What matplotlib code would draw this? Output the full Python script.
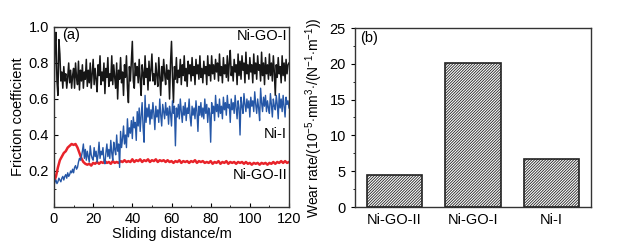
import numpy as np
import matplotlib
matplotlib.use("Agg")
import matplotlib.pyplot as plt
from matplotlib.ticker import MultipleLocator

plt.rcParams['font.family'] = ['Liberation Sans', 'DejaVu Sans']
plt.rcParams['mathtext.fontset'] = 'custom'
plt.rcParams['mathtext.rm'] = 'Liberation Sans'
plt.rcParams['mathtext.it'] = 'Liberation Sans'
plt.rcParams['hatch.linewidth'] = 0.6
plt.rcParams['hatch.color'] = '#222222'

# (a) friction coefficient vs sliding distance
dist_fine = np.linspace(0, 120, 241)   # 0.5 m steps
dist_red = np.arange(0, 121)           # 1 m steps

ni_go_1 = [0.55, 0.90, 0.97, 0.70, 0.62, 0.93, 0.85, 0.70, 0.75, 0.66, 0.78, 0.70, 0.74, 0.66, 0.72, 0.80, 0.69, 0.76, 0.66, 0.73,
           0.77, 0.66, 0.80, 0.72, 0.68, 0.81, 0.65, 0.76, 0.70, 0.79, 0.66, 0.75, 0.71, 0.82, 0.67, 0.76, 0.69, 0.80, 0.66, 0.74,
           0.82, 0.68, 0.77, 0.71, 0.64, 0.79, 0.73, 0.84, 0.68, 0.75, 0.70, 0.80, 0.63, 0.77, 0.72, 0.83, 0.67, 0.74, 0.70, 0.84,
           0.68, 0.79, 0.72, 0.66, 0.80, 0.60, 0.76, 0.71, 0.83, 0.69, 0.75, 0.62, 0.79, 0.72, 0.84, 0.66, 0.58, 0.78, 0.70, 0.81,
           0.92, 0.70, 0.66, 0.80, 0.73, 0.78, 0.69, 0.82, 0.71, 0.62, 0.79, 0.74, 0.68, 0.84, 0.72, 0.77, 0.65, 0.81, 0.70, 0.76,
           0.85, 0.70, 0.74, 0.68, 0.80, 0.73, 0.67, 0.83, 0.72, 0.62, 0.78, 0.70, 0.82, 0.74, 0.68, 0.79, 0.71, 0.76, 0.60, 0.80,
           0.92, 0.72, 0.58, 0.78, 0.71, 0.83, 0.69, 0.76, 0.72, 0.82, 0.68, 0.79, 0.73, 0.84, 0.70, 0.77, 0.67, 0.81, 0.74, 0.79,
           0.70, 0.83, 0.73, 0.78, 0.68, 0.82, 0.74, 0.79, 0.71, 0.84, 0.72, 0.77, 0.69, 0.81, 0.74, 0.78, 0.68, 0.84, 0.73, 0.79,
           0.70, 0.84, 0.74, 0.79, 0.71, 0.82, 0.75, 0.80, 0.70, 0.85, 0.73, 0.78, 0.69, 0.83, 0.74, 0.79, 0.72, 0.84, 0.70, 0.80,
           0.87, 0.73, 0.78, 0.70, 0.82, 0.75, 0.79, 0.68, 0.85, 0.73, 0.81, 0.71, 0.84, 0.76, 0.80, 0.69, 0.86, 0.74, 0.79, 0.71,
           0.83, 0.75, 0.79, 0.69, 0.85, 0.74, 0.80, 0.71, 0.84, 0.76, 0.79, 0.70, 0.86, 0.73, 0.80, 0.68, 0.83, 0.74, 0.79, 0.71,
           0.85, 0.73, 0.80, 0.70, 0.84, 0.75, 0.62, 0.79, 0.72, 0.83, 0.74, 0.78, 0.69, 0.84, 0.73, 0.80, 0.70, 0.82, 0.74, 0.79,
           0.80]

ni_i = [0.12, 0.14, 0.15, 0.13, 0.14, 0.16, 0.15, 0.14, 0.16, 0.17, 0.15, 0.17, 0.18, 0.16, 0.19, 0.17, 0.18, 0.20, 0.19, 0.21,
        0.19, 0.22, 0.23, 0.21, 0.22, 0.25, 0.27, 0.26, 0.28, 0.31, 0.35, 0.27, 0.32, 0.26, 0.31, 0.28, 0.25, 0.34, 0.29, 0.27,
        0.26, 0.33, 0.28, 0.31, 0.25, 0.29, 0.36, 0.27, 0.31, 0.29, 0.33, 0.26, 0.24, 0.30, 0.35, 0.28, 0.32, 0.27, 0.37, 0.30,
        0.26, 0.36, 0.32, 0.29, 0.40, 0.31, 0.35, 0.22, 0.42, 0.33, 0.38, 0.45, 0.35, 0.40, 0.33, 0.49, 0.39, 0.44, 0.41, 0.48,
        0.38, 0.50, 0.44, 0.47, 0.37, 0.53, 0.45, 0.55, 0.42, 0.51, 0.58, 0.44, 0.36, 0.62, 0.47, 0.55, 0.50, 0.57, 0.46, 0.54,
        0.49, 0.58, 0.52, 0.43, 0.56, 0.50, 0.54, 0.47, 0.60, 0.51, 0.45, 0.57, 0.53, 0.49, 0.58, 0.51, 0.55, 0.46, 0.56, 0.52,
        0.45, 0.59, 0.52, 0.56, 0.34, 0.55, 0.50, 0.57, 0.49, 0.60, 0.53, 0.47, 0.56, 0.51, 0.58, 0.48, 0.55, 0.52, 0.60, 0.50,
        0.45, 0.56, 0.51, 0.55, 0.49, 0.59, 0.53, 0.42, 0.56, 0.51, 0.58, 0.50, 0.55, 0.49, 0.60, 0.52, 0.57, 0.47, 0.55, 0.52,
        0.36, 0.58, 0.52, 0.56, 0.48, 0.62, 0.53, 0.57, 0.50, 0.60, 0.52, 0.56, 0.49, 0.61, 0.54, 0.58, 0.51, 0.62, 0.55, 0.57,
        0.47, 0.60, 0.54, 0.58, 0.52, 0.62, 0.55, 0.49, 0.59, 0.55, 0.40, 0.61, 0.56, 0.52, 0.63, 0.57, 0.53, 0.60, 0.55, 0.59,
        0.50, 0.61, 0.56, 0.59, 0.53, 0.64, 0.57, 0.52, 0.60, 0.55, 0.48, 0.66, 0.58, 0.53, 0.61, 0.56, 0.62, 0.53, 0.59, 0.55,
        0.52, 0.63, 0.57, 0.50, 0.60, 0.56, 0.54, 0.62, 0.57, 0.49, 0.63, 0.55, 0.60, 0.53, 0.62, 0.56, 0.50, 0.61, 0.57, 0.59,
        0.55]

ni_go_2 = [0.14, 0.17, 0.22, 0.26, 0.28, 0.30, 0.31, 0.33, 0.34, 0.35,
           0.345, 0.35, 0.33, 0.30, 0.27, 0.25, 0.24, 0.235, 0.24, 0.23,
           0.245, 0.24, 0.25, 0.24, 0.25, 0.245, 0.255, 0.245, 0.25, 0.24,
           0.255, 0.245, 0.25, 0.245, 0.255, 0.25, 0.26, 0.25, 0.255, 0.25,
           0.265, 0.25, 0.26, 0.255, 0.265, 0.25, 0.26, 0.255, 0.265, 0.25,
           0.26, 0.255, 0.265, 0.25, 0.26, 0.255, 0.26, 0.25, 0.26, 0.25,
           0.255, 0.245, 0.255, 0.25, 0.26, 0.245, 0.255, 0.25, 0.255, 0.245,
           0.255, 0.25, 0.26, 0.245, 0.255, 0.25, 0.255, 0.245, 0.25, 0.245,
           0.255, 0.24, 0.25, 0.245, 0.255, 0.24, 0.25, 0.245, 0.255, 0.24,
           0.25, 0.245, 0.25, 0.24, 0.25, 0.245, 0.25, 0.24, 0.25, 0.24,
           0.245, 0.235, 0.245, 0.24, 0.245, 0.235, 0.245, 0.24, 0.245, 0.235,
           0.245, 0.24, 0.25, 0.24, 0.25, 0.245, 0.255, 0.245, 0.255, 0.245,
           0.25]

# (b) wear rate
samples = ['Ni-GO-II', 'Ni-GO-I', 'Ni-I']
wear_rate = [4.4, 20.1, 6.7]

fig = plt.figure(figsize=(6.18, 2.45), dpi=100)
ax1 = fig.add_axes([54 / 618, 38 / 245, 235 / 618, 180 / 245])
ax2 = fig.add_axes([355 / 618, 38 / 245, 236 / 618, 179 / 245])

ax1.plot(dist_fine, ni_go_1, color='#161616', lw=1.1)
ax1.plot(dist_red, ni_go_2, color='#e8232a', lw=1.8)
ax1.plot(dist_fine, ni_i, color='#2557a7', lw=1.0)

ax1.set_xlim(0, 120)
ax1.set_ylim(0, 1.0)
ax1.set_xticks([0, 20, 40, 60, 80, 100, 120])
ax1.set_yticks([0.2, 0.4, 0.6, 0.8, 1.0])
ax1.xaxis.set_minor_locator(MultipleLocator(10))
ax1.yaxis.set_minor_locator(MultipleLocator(0.1))
ax1.tick_params(which='both', direction='in', labelsize=10.5)
ax1.tick_params(which='major', length=3)
ax1.tick_params(which='minor', length=1.5)
ax1.set_xlabel('Sliding distance/m', fontsize=10.5, labelpad=1)
ax1.set_ylabel('Friction coefficient', fontsize=10.5, labelpad=3)

ax1.text(4, 0.955, '(a)', fontsize=10.5, va='center', ha='left')
ax1.text(119, 0.95, 'Ni-GO-I', fontsize=10.5, va='center', ha='right')
ax1.text(119, 0.405, 'Ni-I', fontsize=10.5, va='center', ha='right')
ax1.text(119, 0.18, 'Ni-GO-II', fontsize=10.5, va='center', ha='right')

xpos = np.arange(1, len(samples) + 1)
ax2.bar(xpos, wear_rate, width=0.7, color='white', edgecolor='#222222',
        hatch='/' * 12, linewidth=1.2)
ax2.set_xlim(0.5, 3.5)
ax2.set_ylim(0, 25)
ax2.set_xticks(xpos)
ax2.set_xticklabels(samples)
ax2.set_yticks([0, 5, 10, 15, 20, 25])
ax2.yaxis.set_minor_locator(MultipleLocator(2.5))
ax2.tick_params(axis='x', length=0, labelsize=10.5, pad=4)
ax2.tick_params(axis='y', which='both', direction='out', labelsize=10.5)
ax2.tick_params(axis='y', which='major', length=3)
ax2.tick_params(axis='y', which='minor', length=1.5)
ax2.set_ylabel(r'Wear rate/(10$^{-5}$$\cdot$mm$^{3}$$\cdot$/(N$^{-1}$$\cdot$m$^{-1}$))',
               fontsize=10, labelpad=3)
ax2.text(0.57, 23.6, '(b)', fontsize=10.5, va='center', ha='left')

for ax in (ax1, ax2):
    for sp in ax.spines.values():
        sp.set_color('#333333')
        sp.set_linewidth(1.0)

fig.savefig('out.png', dpi=100)
